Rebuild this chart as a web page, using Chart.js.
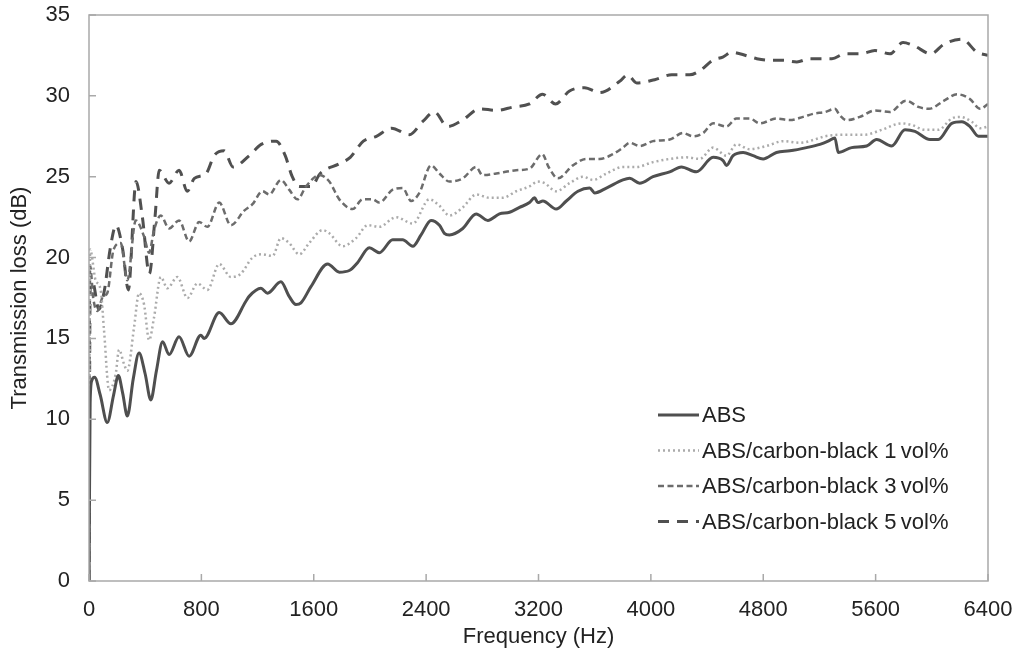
<!DOCTYPE html>
<html>
<head>
<meta charset="utf-8">
<script src="https://cdn.jsdelivr.net/npm/chart.js@4.4.1/dist/chart.umd.min.js"></script>
<style>
  html, body { margin: 0; padding: 0; background: #fff; }
  #wrap { width: 1013px; height: 655px; position: relative; }
</style>
</head>
<body>
<div id="wrap"><canvas id="tl"></canvas></div>
<script>
// frequency (Hz) and transmission loss (dB)
const absFreq = [0,8,20,40,80,130,175,209,240,273,315,356,400,440,480,524,570,641,713,796,820,927,1010,1117,1140,1224,1271,1366,1425,1473,1509,1580,1699,1782,1853,1913,1996,2067,2162,2233,2305,2364,2435,2495,2530,2566,2661,2756,2839,2922,2994,3065,3136,3172,3195,3231,3326,3398,3481,3564,3600,3683,3801,3849,3920,4015,4134,4217,4324,4443,4514,4538,4585,4657,4728,4799,4894,4989,5108,5203,5262,5310,5334,5429,5536,5607,5714,5809,5880,5987,6046,6142,6213,6272,6332,6400]
const absTL = [0,11,12.4,12.6,11.5,9.8,11.5,12.7,11.6,10.2,12.5,14.1,12.8,11.2,13,14.8,14.0,15.1,13.9,15.2,15.0,16.6,15.9,17.3,17.6,18.1,17.8,18.5,17.6,17.1,17.2,18.2,19.6,19.1,19.2,19.7,20.6,20.3,21.1,21.1,20.7,21.4,22.3,22.0,21.5,21.4,21.8,22.7,22.3,22.7,22.8,23.1,23.4,23.7,23.4,23.5,23.0,23.5,24.1,24.3,24.0,24.3,24.8,24.9,24.6,25.0,25.3,25.6,25.3,26.2,26.0,25.7,26.3,26.5,26.3,26.1,26.5,26.6,26.8,27.0,27.2,27.4,26.5,26.8,26.9,27.3,26.9,27.9,27.8,27.3,27.3,28.3,28.4,28.1,27.5,27.5]

const cb1Freq = [0,8,47,83,107,143,190,214,250,273,321,356,392,428,463,511,558,629,701,772,843,927,1010,1081,1164,1235,1307,1366,1425,1497,1568,1663,1711,1806,1901,1984,2067,2186,2305,2423,2495,2566,2661,2756,2851,2946,3041,3136,3195,3243,3326,3421,3516,3588,3683,3801,3896,4015,4134,4253,4348,4443,4538,4609,4704,4823,4942,5061,5203,5239,5381,5524,5643,5785,5857,5952,6046,6142,6201,6284,6344,6400]
const cb1TL = [0,20.5,18.6,18.0,15.5,11.8,12.8,14.3,13.4,13.0,15.7,17.8,17.1,14.9,16.3,18.8,18.1,18.8,17.5,18.4,18.0,19.6,18.8,19.0,20.0,20.2,20.1,21.2,20.9,20.2,20.9,21.7,21.5,20.7,21.2,22.0,21.9,22.5,22.1,23.6,23.2,22.6,23.1,23.9,23.7,23.7,24.1,24.4,24.7,24.6,24.1,24.6,25.0,24.8,25.2,25.6,25.6,25.9,26.1,26.2,26.1,26.8,26.3,27.0,26.7,26.9,27.2,27.1,27.4,27.5,27.6,27.6,27.9,28.3,28.2,27.9,27.9,28.6,28.7,28.4,28.0,28.1]

const cb3Freq = [0,8,30,59,100,130,175,226,273,333,392,428,463,511,570,641,713,784,843,927,1010,1105,1164,1235,1283,1366,1425,1485,1545,1640,1711,1782,1877,1948,2020,2067,2162,2233,2293,2352,2435,2495,2566,2661,2756,2801,2900,3041,3136,3227,3272,3338,3445,3540,3635,3730,3801,3849,3920,4015,4134,4229,4300,4372,4443,4538,4609,4704,4776,4894,4989,5084,5160,5239,5310,5345,5393,5488,5595,5702,5815,5910,5980,6087,6180,6272,6344,6400]
const cb3TL = [0,19.5,17.5,16.7,17.6,17.8,20.5,20.9,18.6,22.3,21.3,20.3,21.7,22.6,21.8,22.3,21.0,22.2,21.9,23.4,22.0,22.9,23.3,24.1,23.9,24.8,24.2,23.6,24.4,25.1,24.7,23.6,23.0,23.6,23.6,23.4,24.2,24.3,23.5,24.0,25.7,25.2,24.7,24.9,25.6,25.1,25.2,25.4,25.5,26.4,25.6,24.9,25.7,26.1,26.1,26.4,26.8,27.1,26.9,27.2,27.3,27.7,27.5,27.7,28.3,28.1,28.6,28.6,28.3,28.6,28.5,28.7,28.9,29.0,29.2,28.8,28.5,28.7,29.1,29.0,29.7,29.3,29.2,29.7,30.1,29.8,29.2,29.5]

const cb5Freq = [0,8,25,70,110,150,192,240,280,335,380,430,470,500,570,641,700,750,834,891,962,1026,1140,1226,1333,1397,1447,1497,1582,1646,1782,1860,1953,2046,2153,2281,2374,2459,2552,2659,2780,2901,3015,3136,3229,3321,3421,3528,3635,3778,3835,3899,4027,4148,4276,4355,4440,4512,4576,4633,4754,4847,4939,5039,5132,5217,5289,5381,5495,5595,5702,5795,5873,5994,6087,6215,6322,6400]
const cb5TL = [0,18,18.5,16.8,18.0,20.5,22.0,20.5,18.0,24.7,22.5,19.0,22.5,25.4,24.6,25.4,24.1,24.9,25.2,26.3,26.6,25.6,26.3,27.0,27.2,26.3,25.0,24.4,24.4,25.2,25.8,26.2,27.2,27.5,28.0,27.6,28.4,29.0,28.1,28.5,29.2,29.1,29.3,29.5,30.1,29.5,30.3,30.5,30.2,30.9,31.3,30.8,31.0,31.3,31.3,31.6,32.2,32.4,32.7,32.6,32.3,32.2,32.2,32.1,32.3,32.3,32.3,32.6,32.6,32.8,32.6,33.3,33.1,32.6,33.2,33.5,32.7,32.5]

const seriesLabels = ['ABS', 'ABS/carbon-black 1\u2009vol%', 'ABS/carbon-black 3\u2009vol%', 'ABS/carbon-black 5\u2009vol%']
const xTicks = [0, 800, 1600, 2400, 3200, 4000, 4800, 5600, 6400]

const FONT = "'Liberation Sans', Arial, Helvetica, sans-serif"
Chart.defaults.font.family = FONT
Chart.defaults.color = '#222'

function pts(freq, tl){
    return freq.map((f, i) => ({x: f, y: tl[i]}))
}

function line(label, freq, tl, color, width, dash){
    return {
        label: label,
        data: pts(freq, tl),
        borderColor: color,
        backgroundColor: color,
        borderWidth: width,
        borderDash: dash,
        pointRadius: 0,
        cubicInterpolationMode: 'monotone',
        fill: false
    }
}

// box round the plot and the short inward tick marks
const frameTicks = {
    id: 'frameTicks',
    afterDatasetsDraw(chart){
        const {ctx, chartArea: a, scales} = chart
        ctx.save()
        ctx.strokeStyle = '#a9a9a9'
        ctx.lineWidth = 1.5
        ctx.strokeRect(a.left, a.top, a.right - a.left, a.bottom - a.top)
        ctx.beginPath()
        scales.x.ticks.forEach(t => {
            const px = scales.x.getPixelForValue(t.value)
            ctx.moveTo(px, a.bottom)
            ctx.lineTo(px, a.bottom - 7)
        })
        scales.y.ticks.forEach(t => {
            const py = scales.y.getPixelForValue(t.value)
            ctx.moveTo(a.left, py)
            ctx.lineTo(a.left + 7, py)
        })
        ctx.stroke()
        ctx.restore()
    }
}

// legend sits inside the plot, lower right
const insideLegend = {
    id: 'insideLegend',
    afterDraw(chart){
        const {ctx, chartArea: a} = chart
        const x0 = a.left + 569, x1 = a.left + 610, tx = a.left + 613
        const y0 = a.top + 400, step = 35.5
        ctx.save()
        ctx.font = '22px ' + FONT
        ctx.textBaseline = 'middle'
        ctx.fillStyle = '#222'
        chart.data.datasets.forEach((ds, i) => {
            const y = y0 + i * step
            ctx.strokeStyle = ds.borderColor
            ctx.lineWidth = ds.borderWidth
            ctx.setLineDash(ds.borderDash || [])
            ctx.beginPath()
            ctx.moveTo(x0, y)
            ctx.lineTo(x1, y)
            ctx.stroke()
            ctx.fillText(ds.label, tx, y + 1)
        })
        ctx.restore()
    }
}

new Chart(document.getElementById('tl'), {
    type: 'line',
    data: {
        datasets: [
            line(seriesLabels[0], absFreq, absTL, '#4f4f4f', 3, []),
            line(seriesLabels[1], cb1Freq, cb1TL, '#ababab', 2.5, [2, 3]),
            line(seriesLabels[2], cb3Freq, cb3TL, '#6c6c6c', 2.5, [6, 3.5]),
            line(seriesLabels[3], cb5Freq, cb5TL, '#505050', 3, [11, 8])
        ]
    },
    options: {
        responsive: true,
        maintainAspectRatio: false,
        animation: false,
        layout: { padding: { top: 15, right: 25, left: 0, bottom: 0 } },
        plugins: {
            legend: { display: false },
            tooltip: { enabled: false }
        },
        scales: {
            x: {
                type: 'linear',
                min: 0,
                max: 6400,
                grid: { display: false },
                border: { display: false },
                afterBuildTicks: s => { s.ticks = xTicks.map(v => ({value: v})) },
                ticks: { padding: 8, font: { size: 22 }, color: '#222', callback: v => String(v) },
                title: { display: true, text: 'Frequency (Hz)', font: { size: 22 }, color: '#222', padding: { top: 0, bottom: 5 } },
                afterFit: s => { s.height = 74; s.paddingLeft = 0; s.paddingRight = 0 }
            },
            y: {
                min: 0,
                max: 35,
                grid: { display: false },
                border: { display: false },
                ticks: { stepSize: 5, padding: 11, font: { size: 22 }, color: '#222', callback: v => String(v) },
                title: { display: true, text: 'Transmission loss (dB)', font: { size: 22 }, color: '#222', padding: { top: 7, bottom: 0 } },
                afterFit: s => { s.width = 89; s.paddingTop = 0; s.paddingBottom = 0 }
            }
        }
    },
    plugins: [frameTicks, insideLegend]
})
</script>
</body>
</html>
